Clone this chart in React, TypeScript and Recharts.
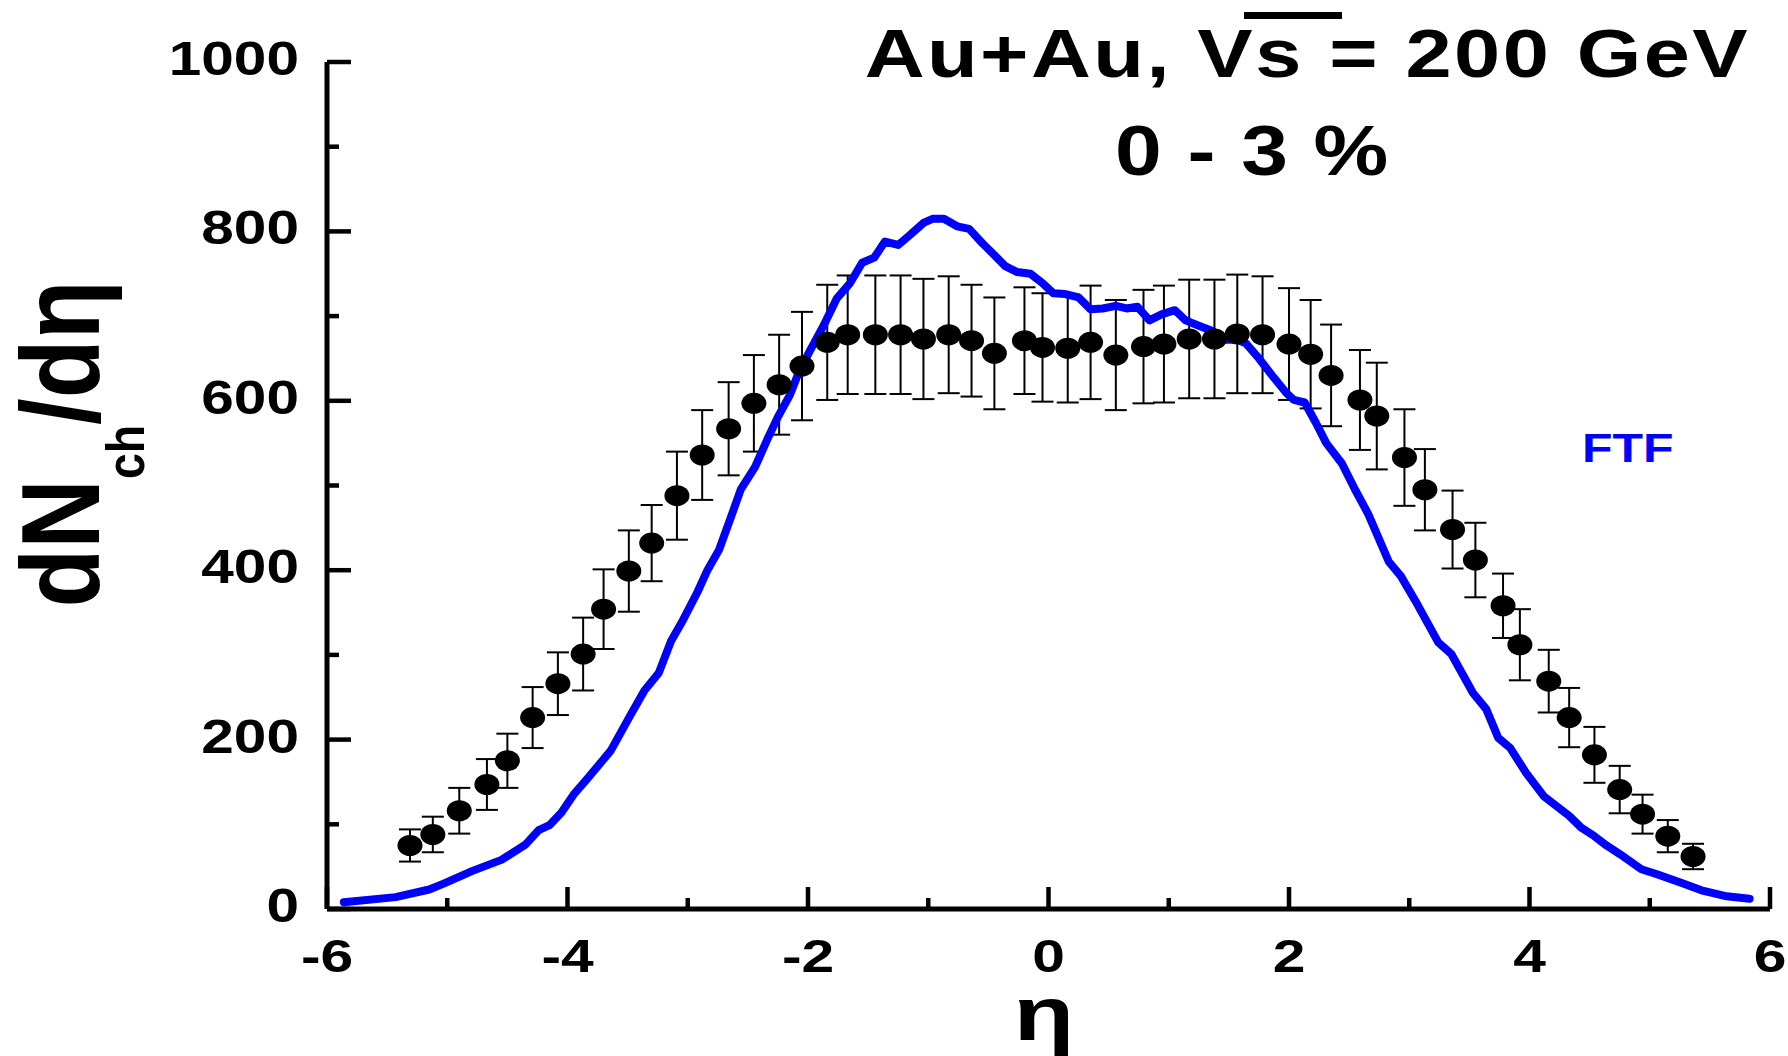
import { ComposedChart, ErrorBar, Line, Scatter, XAxis, YAxis } from "recharts";

// axis ticks
const etaTicks = [-6, -5, -4, -3, -2, -1, 0, 1, 2, 3, 4, 5, 6];
const yTicks = [0, 100, 200, 300, 400, 500, 600, 700, 800, 900, 1000];

// measured dNch/deta, 0-3 % central Au+Au
const dataEta = [
  -5.31, -5.12, -4.9, -4.67, -4.5, -4.29, -4.08, -3.87, -3.7, -3.49, -3.3, -3.09,
  -2.88, -2.66, -2.45, -2.24, -2.05, -1.84, -1.67, -1.44, -1.23, -1.04, -0.83,
  -0.64, -0.45, -0.2, -0.05, 0.16, 0.35, 0.56, 0.79, 0.96, 1.17, 1.38, 1.57, 1.78,
  2.0, 2.18, 2.35, 2.59, 2.73, 2.96, 3.13, 3.36, 3.55, 3.78, 3.92, 4.16, 4.33,
  4.54, 4.75, 4.94, 5.15, 5.36,
];
const dataValue = [
  75, 88, 116, 147, 175, 226, 266, 301, 354, 399, 432, 488, 536, 567, 597, 619, 641,
  669, 678, 678, 678, 673, 678, 671, 656, 671, 663, 662, 669, 654, 664, 667, 673, 673,
  679, 678, 667, 655, 630, 601, 582, 533, 495, 448, 412, 358, 312, 269, 226, 182, 141,
  112, 86, 62,
];
const dataError = [
  19, 21, 27, 30, 32, 36, 37, 43, 47, 48, 45, 52, 53, 55, 57, 59, 64, 68, 70, 70, 70,
  71, 69, 66, 66, 63, 64, 64, 67, 65, 67, 69, 70, 70, 70, 69, 66, 64, 60, 59, 63, 57,
  48, 46, 44, 38, 42, 37, 35, 33, 28, 23, 19, 15,
];

// FTF model curve
const ftfEta = [
  -5.86, -5.43, -5.15, -5.03, -4.79, -4.55, -4.35, -4.24, -4.15, -4.05, -3.95, -3.84,
  -3.64, -3.48, -3.36, -3.24, -3.14, -3.04, -2.92, -2.84, -2.74, -2.65, -2.56, -2.44,
  -2.34, -2.25, -2.15, -2.07, -1.98, -1.87, -1.76, -1.65, -1.55, -1.45, -1.36, -1.25,
  -1.15, -1.04, -0.96, -0.87, -0.76, -0.66, -0.55, -0.45, -0.36, -0.26, -0.15, -0.05,
  0.04, 0.14, 0.25, 0.35, 0.45, 0.56, 0.65, 0.74, 0.84, 0.94, 1.05, 1.14, 1.26, 1.37,
  1.46, 1.57, 1.64, 1.75, 1.87, 1.98, 2.04, 2.13, 2.22, 2.31, 2.44, 2.55, 2.66, 2.83,
  2.93, 3.05, 3.24, 3.35, 3.53, 3.64, 3.74, 3.84, 3.97, 4.12, 4.33, 4.43, 4.53, 4.64,
  4.76, 4.93, 5.06, 5.26, 5.43, 5.64, 5.83,
];
const ftfValue = [
  8, 14, 23, 30, 45, 58, 76, 93, 99, 114, 135, 153, 187, 228, 258, 279, 316, 341, 374,
  399, 424, 459, 495, 522, 554, 581, 607, 636, 660, 689, 721, 739, 763, 769, 788, 784,
  796, 810, 815, 815, 806, 803, 786, 772, 759, 752, 750, 739, 727, 726, 722, 708, 709,
  712, 709, 711, 695, 702, 707, 695, 688, 682, 672, 672, 668, 650, 628, 609, 601, 598,
  575, 550, 526, 495, 466, 410, 393, 364, 315, 301, 255, 236, 202, 190, 161, 133, 110,
  96, 87, 75, 64, 47, 41, 31, 22, 15, 12,
];

const points = dataEta.map((eta, i) => ({ eta, v: dataValue[i], err: dataError[i] }));
const ftf = ftfEta.map((eta, i) => ({ eta, v: ftfValue[i] }));

const FONT = "'Liberation Sans', Arial, sans-serif";

function XTick({ x, y, payload }: any) {
  const v = payload.value;
  const major = v % 2 === 0;
  return (
    <g>
      <line x1={x} y1={y} x2={x} y2={y - (major ? 22 : 11)} stroke="#000" strokeWidth={4.5} />
      {major && (
        <text
          transform={`translate(${x},${y + 63}) scale(1.25,1)`}
          textAnchor="middle"
          fontFamily={FONT}
          fontWeight="bold"
          fontSize={47}
          fill="#000"
        >
          {v}
        </text>
      )}
    </g>
  );
}

function YTick({ x, y, payload }: any) {
  const v = payload.value;
  const major = v % 200 === 0;
  return (
    <g>
      <line x1={x} y1={y} x2={x + (major ? 24 : 12)} y2={y} stroke="#000" strokeWidth={4.5} />
      {major && (
        <text
          transform={`translate(${x - 28},${y + 13}) scale(1.22,1)`}
          textAnchor="end"
          fontFamily={FONT}
          fontWeight="bold"
          fontSize={48}
          fill="#000"
        >
          {v}
        </text>
      )}
    </g>
  );
}

const Dot = (p: any) => <ellipse cx={p.cx} cy={p.cy} rx={12.5} ry={10.5} fill="#000" />;

export default function App() {
  return (
    <div style={{ position: "absolute", left: 0, top: 0, width: 1788, height: 1056, background: "#fff" }}>
      <ComposedChart width={1788} height={1056} margin={{ top: 62, right: 18, bottom: 47, left: 127 }}>
        <XAxis
          dataKey="eta"
          type="number"
          domain={[-6, 6]}
          ticks={etaTicks}
          interval={0}
          tickSize={0}
          tickMargin={0}
          tickLine={false}
          tick={<XTick />}
          height={100}
          axisLine={{ stroke: "#000", strokeWidth: 5 }}
          allowDataOverflow
        />
        <YAxis
          type="number"
          domain={[0, 1000]}
          ticks={yTicks}
          interval={0}
          tickSize={0}
          tickMargin={0}
          tickLine={false}
          tick={<YTick />}
          width={200}
          axisLine={{ stroke: "#000", strokeWidth: 5 }}
          allowDataOverflow
        />
        <Scatter data={points} dataKey="v" shape={Dot} isAnimationActive={false}>
          <ErrorBar dataKey="err" direction="y" width={11} stroke="#000" strokeWidth={2} isAnimationActive={false} />
        </Scatter>
        <Line
          data={ftf}
          dataKey="v"
          type="linear"
          stroke="#0000ff"
          strokeWidth={8}
          strokeLinejoin="round"
          strokeLinecap="round"
          dot={false}
          activeDot={false}
          isAnimationActive={false}
        />
      </ComposedChart>
      <svg
        width={1788}
        height={1056}
        style={{ position: "absolute", left: 0, top: 0, pointerEvents: "none" }}
        fontFamily={FONT}
        fontWeight="bold"
      >
        <text transform="translate(1750,77) scale(1.22,1)" textAnchor="end" fontSize={68} letterSpacing={2}>
          Au+Au, V<tspan>s</tspan> = 200 GeV
        </text>
        <rect x={1244} y={12} width={98} height={7} fill="#000" />
        <text transform="translate(1115,175) scale(1.2,1)" fontSize={70} letterSpacing={1}>
          0 - 3 %
        </text>
        <text transform="translate(1582,462) scale(1.22,1)" fontSize={41} fill="#0000ff">
          FTF
        </text>
        <text transform="translate(1044,1040) scale(1.3,1)" textAnchor="middle" fontSize={76}>
          η
        </text>
        <text transform="translate(99,444) rotate(-90) scale(0.86,1)" textAnchor="middle" fontSize={112}>
          dN<tspan dy={45} fontSize={54}>ch</tspan>
          <tspan dy={-45}>/dη</tspan>
        </text>
      </svg>
    </div>
  );
}
